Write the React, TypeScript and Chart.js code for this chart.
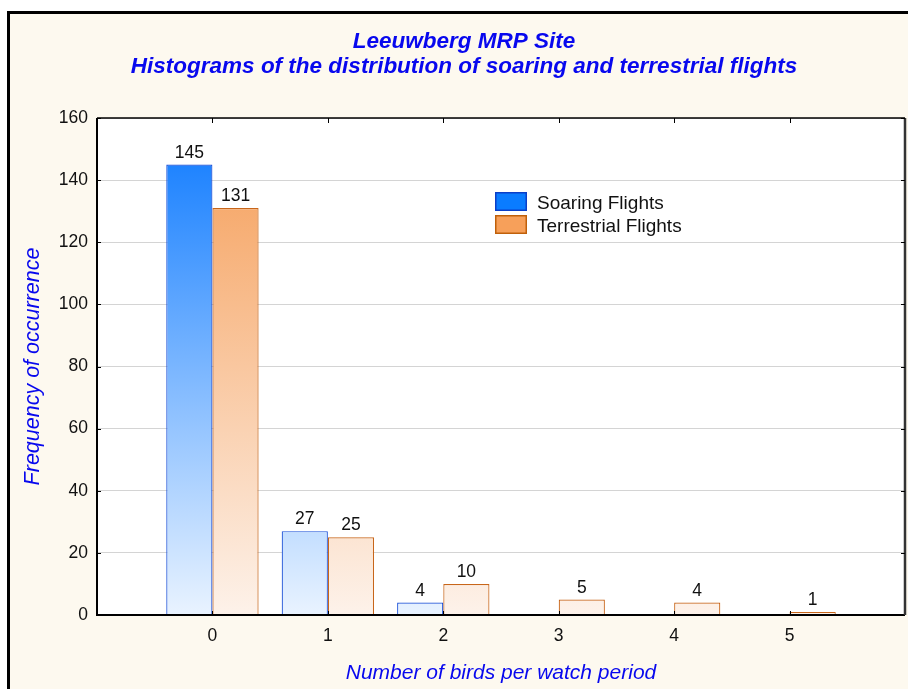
import React, { useEffect, useRef } from "react";
import { Chart, registerables } from "chart.js";

Chart.register(...registerables);

const categories = ["0", "1", "2", "3", "4", "5"];
const soaring = [145, 27, 4, 0, 0, 0];
const terrestrial = [131, 25, 10, 5, 4, 1];
const yTicks = [0, 20, 40, 60, 80, 100, 120, 140, 160];
const titleLines = ["Leeuwberg MRP Site", "Histograms of the distribution of soaring and terrestrial flights"];
const xTitle = "Number of birds per watch period";
const yTitle = "Frequency of occurrence";
const seriesNames = ["Soaring Flights", "Terrestrial Flights"];

const FONT = "Arial, 'Liberation Sans', sans-serif";
const BLUE_TXT = "#0808ee";

const decorPlugin = {
  id: "decor",
  beforeDraw(chart: any) {
    const { ctx, chartArea: a } = chart;
    ctx.save();
    ctx.fillStyle = "#ffffff";
    ctx.fillRect(a.left, a.top, a.right - a.left, a.bottom - a.top);
    ctx.restore();
  },
  afterDatasetsDraw(chart: any) {
    const { ctx, chartArea: a } = chart;
    ctx.save();
    // value labels
    ctx.font = `17.5px ${FONT}`;
    ctx.fillStyle = "#111";
    ctx.textAlign = "center";
    ctx.textBaseline = "bottom";
    chart.data.datasets.forEach((ds: any, i: number) => {
      const meta = chart.getDatasetMeta(i);
      meta.data.forEach((el: any, j: number) => {
        const v = ds.data[j];
        if (v === null || v === undefined || v <= 0) return;
        ctx.fillText(String(v), el.x, el.y - 3);
      });
    });
    // frame
    ctx.strokeStyle = "#000";
    ctx.lineWidth = 2;
    ctx.beginPath();
    ctx.moveTo(a.left, a.top);
    ctx.lineTo(a.left, a.bottom);
    ctx.lineTo(a.right, a.bottom);
    ctx.stroke();
    ctx.lineWidth = 1.5;
    ctx.beginPath();
    ctx.moveTo(a.left, a.top);
    ctx.lineTo(a.right, a.top);
    ctx.stroke();
    ctx.strokeStyle = "#333";
    ctx.lineWidth = 2.5;
    ctx.beginPath();
    ctx.moveTo(a.right, a.top);
    ctx.lineTo(a.right, a.bottom);
    ctx.stroke();
    // inward ticks
    ctx.strokeStyle = "#000";
    ctx.lineWidth = 1;
    const ys = chart.scales.y;
    yTicks.forEach((t) => {
      const py = Math.round(ys.getPixelForValue(t)) + 0.5;
      ctx.beginPath();
      ctx.moveTo(a.left, py);
      ctx.lineTo(a.left + 4, py);
      ctx.moveTo(a.right, py);
      ctx.lineTo(a.right - 4, py);
      ctx.stroke();
    });
    const xs = chart.scales.x;
    categories.forEach((c, i) => {
      const px = Math.round(xs.getPixelForValue(i + 1)) + 0.5;
      ctx.beginPath();
      ctx.moveTo(px, a.bottom);
      ctx.lineTo(px, a.bottom - 4);
      ctx.moveTo(px, a.top);
      ctx.lineTo(px, a.top + 5);
      ctx.stroke();
    });
    // legend
    const lx = 495, ly = 192;
    const fills = ["#0a7cff", "#f7a05a"];
    const strokes = ["#0a3fc8", "#c0600a"];
    ctx.font = `19px ${FONT}`;
    ctx.textAlign = "left";
    ctx.textBaseline = "middle";
    seriesNames.forEach((n, i) => {
      const y = ly + i * 23;
      ctx.fillStyle = fills[i];
      ctx.fillRect(lx, y, 32, 19);
      ctx.strokeStyle = strokes[i];
      ctx.lineWidth = 1.5;
      ctx.strokeRect(lx + 0.75, y + 0.75, 30.5, 17.5);
      ctx.fillStyle = "#111";
      ctx.fillText(n, lx + 42, y + 12);
    });
    // titles
    ctx.fillStyle = BLUE_TXT;
    ctx.textAlign = "center";
    ctx.textBaseline = "middle";
    ctx.font = `italic bold 22.5px ${FONT}`;
    ctx.fillText(titleLines[0], 464, 42);
    ctx.fillText(titleLines[1], 464, 67);
    ctx.font = `italic 21px ${FONT}`;
    ctx.fillText(xTitle, (a.left + a.right) / 2, 673);
    ctx.save();
    ctx.translate(33, (a.top + a.bottom) / 2);
    ctx.rotate(-Math.PI / 2);
    ctx.font = `italic 21.5px ${FONT}`;
    ctx.fillText(yTitle, 0, 0);
    ctx.restore();
    ctx.restore();
  },
};

function makeGradient(chart: any, top: string, bottom: string) {
  const a = chart.chartArea;
  if (!a) return top;
  const g = chart.ctx.createLinearGradient(0, a.top, 0, a.bottom);
  g.addColorStop(0, top);
  g.addColorStop(1, bottom);
  return g;
}

export default function App() {
  const ref = useRef<HTMLCanvasElement>(null);
  useEffect(() => {
    if (!ref.current) return;
    const labels = ["", ...categories, ""];
    const chart = new Chart(ref.current, {
      type: "bar",
      data: {
        labels,
        datasets: [
          {
            label: seriesNames[0],
            data: [null, ...soaring, null] as any,
            backgroundColor: (c: any) => makeGradient(c.chart, "#0a78ff", "#e9f3ff"),
            borderColor: "#1a50d8",
            borderWidth: 1.2,
            categoryPercentage: 0.8,
            barPercentage: 1,
          },
          {
            label: seriesNames[1],
            data: [null, ...terrestrial, null] as any,
            backgroundColor: (c: any) => makeGradient(c.chart, "#f59c55", "#fdf2ea"),
            borderColor: "#c8661a",
            borderWidth: 1.2,
            categoryPercentage: 0.8,
            barPercentage: 1,
          },
        ],
      },
      options: {
        responsive: false,
        devicePixelRatio: 1,
        animation: false,
        layout: { padding: { top: 118, right: 3, left: 0, bottom: 0 } },
        plugins: { legend: { display: false }, title: { display: false }, tooltip: { enabled: false } },
        scales: {
          x: {
            type: "category",
            offset: false,
            grid: { display: false, drawTicks: false },
            border: { display: false },
            ticks: {
              autoSkip: false,
              maxRotation: 0,
              padding: 11,
              color: "#111",
              font: { family: FONT, size: 17.5 },
            },
            afterFit: (s: any) => {
              s.height = 74;
              s.paddingLeft = 0;
              s.paddingRight = 0;
            },
          },
          y: {
            min: 0,
            max: 160,
            ticks: {
              stepSize: 20,
              padding: 9,
              color: "#111",
              font: { family: FONT, size: 17.5 },
            },
            grid: { color: "#d4d4d4", drawTicks: false, lineWidth: 1 },
            border: { display: false },
            afterFit: (s: any) => {
              s.width = 97;
              s.paddingTop = 0;
              s.paddingBottom = 0;
            },
          },
        },
      },
      plugins: [decorPlugin],
    });
    return () => chart.destroy();
  }, []);
  return (
    <div style={{ position: "fixed", left: 0, top: 0, width: 908, height: 689, background: "#fff", overflow: "hidden" }}>
      <div
        style={{
          position: "absolute",
          left: 7,
          top: 11,
          width: 1000,
          height: 1000,
          borderLeft: "3px solid #000",
          borderTop: "3px solid #000",
          background: "#fdf9ef",
        }}
      />
      <canvas ref={ref} width={908} height={689} style={{ position: "absolute", left: 0, top: 0, width: 908, height: 689 }} />
    </div>
  );
}
